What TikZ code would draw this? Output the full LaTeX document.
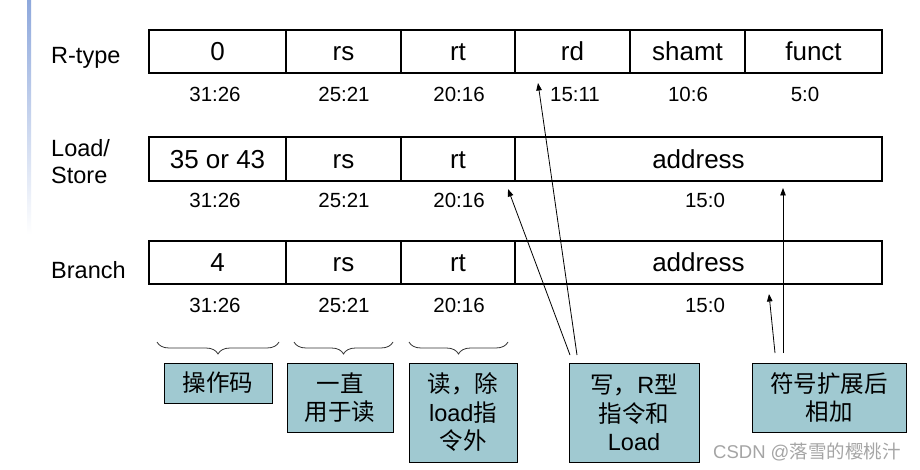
\documentclass[tikz,border=0pt]{standalone}
\usepackage{fontspec}
\setmainfont{Liberation Sans}
\newfontfamily\cjk{Noto Sans CJK SC}
\usetikzlibrary{arrows.meta,decorations.pathreplacing,calc}
\definecolor{notefill}{RGB}{160,201,209}
\definecolor{barblue}{RGB}{142,168,220}
\definecolor{wmgray}{RGB}{165,165,165}
\begin{document}
\begin{tikzpicture}[x=1pt,y=-1pt,
  cell/.style={draw,line width=2pt,minimum height=43.5pt,inner sep=0pt,
    font=\fontsize{26}{30}\selectfont,text height=18.7pt,text depth=0pt},
  bits/.style={anchor=base,inner sep=0pt,font=\fontsize{20.5}{24}\selectfont},
  rowlab/.style={anchor=base west,inner sep=0pt,font=\fontsize{23.5}{27}\selectfont},
  note/.style={draw,fill=notefill,line width=1pt,inner sep=0pt,align=center,
    font=\fontsize{23.5}{28.5}\selectfont},
  bracestyle/.style={draw=black!80,line width=0.8pt,
    decorate,decoration={brace,mirror,amplitude=12pt}},
  ptr/.style={line width=0.8pt,-{Triangle[length=7.5pt,width=5.5pt]}}]
\fill[white] (0,0) rectangle (920,470);
\useasboundingbox (0,0) rectangle (920,470);
\shade[top color=barblue,bottom color=white] (27,0) rectangle (31,235);
\newcommand\fieldcell[5]{\node[cell,minimum width={#3-#2}] (#1) at ({(#2+#3)/2},#4) {#5};}
% row labels
\node[rowlab] (lr) at (51,64) {R-type};
\node[rowlab] (ll1) at (51,157) {Load/};
\node[rowlab] (ll2) at (51,184) {Store};
\node[rowlab] (lb) at (51,278) {Branch};
% R-type
\fieldcell{r1}{149}{286}{51.5}{0}
\fieldcell{r2}{286}{401}{51.5}{rs}
\fieldcell{r3}{401}{515}{51.5}{rt}
\fieldcell{r4}{515}{630}{51.5}{rd}
\fieldcell{r5}{630}{745}{51.5}{shamt}
\fieldcell{r6}{745}{882}{51.5}{funct}
% Load/Store
\fieldcell{l1}{149}{286}{159}{35 or 43}
\fieldcell{l2}{286}{401}{159}{rs}
\fieldcell{l3}{401}{515}{159}{rt}
\fieldcell{l4}{515}{882}{159}{address}
% Branch
\fieldcell{b1}{149}{286}{262.5}{4}
\fieldcell{b2}{286}{401}{262.5}{rs}
\fieldcell{b3}{401}{515}{262.5}{rt}
\fieldcell{b4}{515}{882}{262.5}{address}
% bit labels
\node[bits] (rb1) at (215,102) {31:26};
\node[bits] (rb2) at (344,102) {25:21};
\node[bits] (rb3) at (459,102) {20:16};
\node[bits] (rb4) at (575,102) {15:11};
\node[bits] (rb5) at (688,102) {10:6};
\node[bits] (rb6) at (805,102) {5:0};
\node[bits] (lb1) at (215,208) {31:26};
\node[bits] (lb2) at (344,208) {25:21};
\node[bits] (lb3) at (459,208) {20:16};
\node[bits] (lb4) at (705,208) {15:0};
\node[bits] (bb1) at (215,312) {31:26};
\node[bits] (bb2) at (344,312) {25:21};
\node[bits] (bb3) at (459,312) {20:16};
\node[bits] (bb4) at (705,312) {15:0};
% braces
\draw[bracestyle] (157,342) -- (279,342);
\draw[bracestyle] (294,342) -- (393,342);
\draw[bracestyle] (409,342) -- (508,342);
% notes
\node[note,minimum width=108,minimum height=40] (n1) at (218,383) {\cjk 操作码};
\node[note,minimum width=106,minimum height=69] (n2) at (340,397.5) {\cjk 一直\\\cjk 用于读};
\node[note,minimum width=108,minimum height=99] (n3) at (463,412.5) {{\cjk 读，除}\\load{\cjk 指}\\{\cjk 令外}};
\node[note,minimum width=130,minimum height=99] (n4) at (634,412.5) {{\cjk 写，}R{\cjk 型}\\{\cjk 指令和}\\Load};
\node[note,minimum width=154,minimum height=69] (n5) at (829,397.5) {\cjk 符号扩展后\\\cjk 相加};
% arrows
\coordinate (a1s) at (570,355); \coordinate (a1e) at (508,189);
\coordinate (a2s) at (577,355); \coordinate (a2e) at (538,83);
\coordinate (a3s) at (775,353); \coordinate (a3e) at (769,294);
\coordinate (a4s) at (783,353); \coordinate (a4e) at (783,188);
\draw[ptr] (a1s) -- (a1e);
\draw[ptr] (a2s) -- (a2e);
\draw[ptr] (a3s) -- (a3e);
\draw[ptr] (a4s) -- (a4e);
% watermark
\node[anchor=base west,inner sep=0pt,text=wmgray,font=\fontsize{18.5}{20}\selectfont] (wm) at (713,458) {CSDN @{\cjk 落雪的樱桃汁}};
\end{tikzpicture}
\end{document}
